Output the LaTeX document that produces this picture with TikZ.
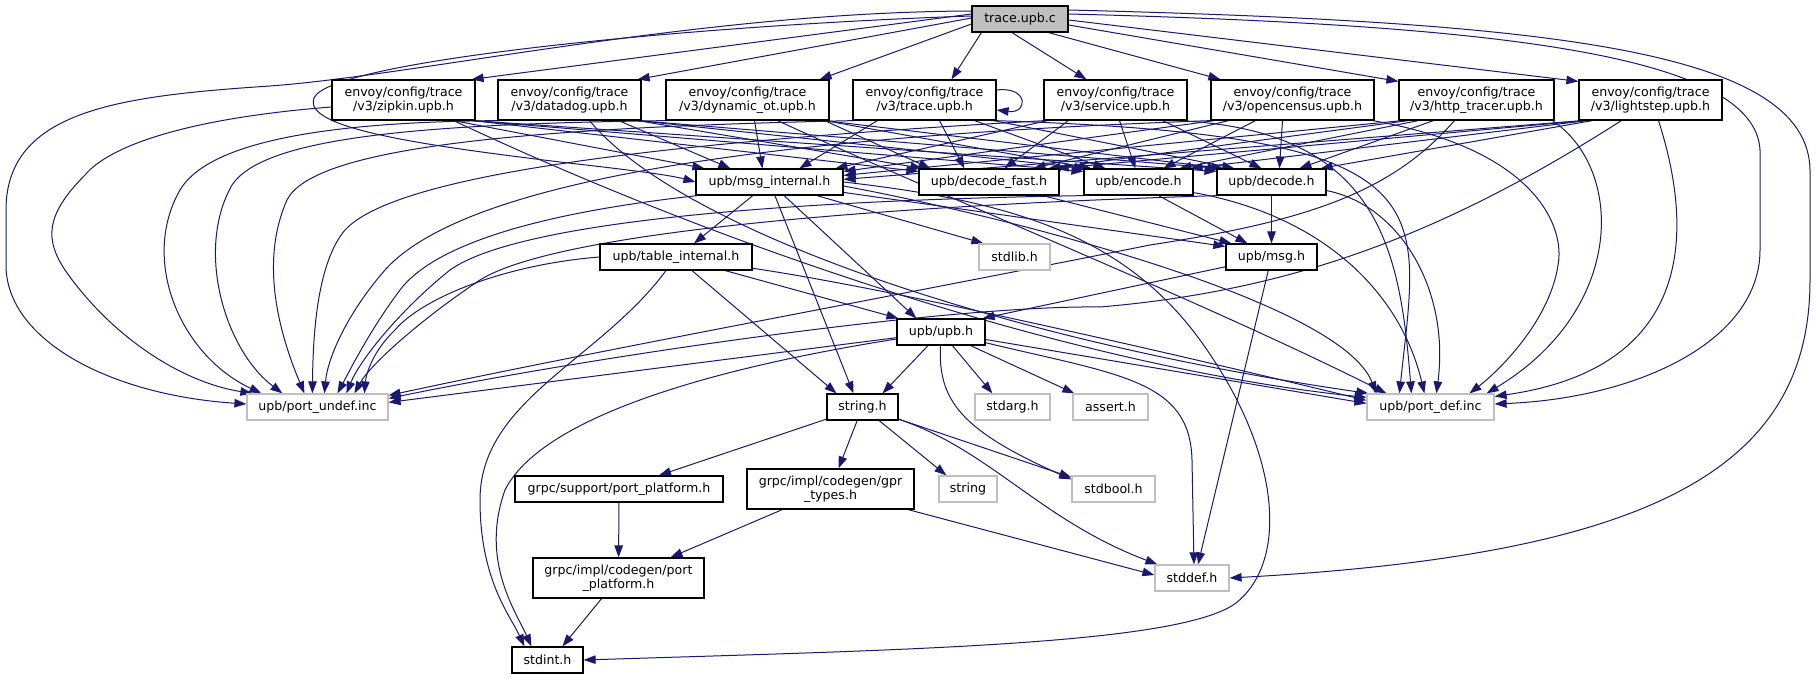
\documentclass[tikz,border=0pt]{standalone}
\usepackage{fontspec}
\setmainfont{DejaVu Sans}
\usetikzlibrary{arrows.meta,calc}
\definecolor{edgecol}{HTML}{191970}
\definecolor{sysgray}{HTML}{BFBFBF}
\definecolor{rootfill}{HTML}{BFBFBF}
\pgfdeclarelayer{bg}
\pgfsetlayers{bg,main}
\tikzset{
  dep/.style={draw=edgecol, line width=1pt, -{Triangle[length=12pt,width=8.5pt]}},
  filebox/.style={draw=black, line width=1.2pt, fill=white, inner sep=0pt, align=center,
    font=\fontsize{12.6}{14.5}\selectfont, minimum height=26},
  sysbox/.style={filebox, draw=sysgray},
  twoline/.style={minimum height=40},
}
\begin{document}
\begin{tikzpicture}[x=1pt,y=-1pt]
\useasboundingbox (0,0) rectangle (1816,679);

% ---------- nodes ----------
\node[filebox, fill=rootfill, minimum width=96] (root) at (1020,19) {trace.upb.c};
\node[filebox, twoline, minimum width=143] (zipkin) at (403.5,100) {envoy/config/trace\\/v3/zipkin.upb.h};
\node[filebox, twoline, minimum width=143] (datadog) at (569.5,100) {envoy/config/trace\\/v3/datadog.upb.h};
\node[filebox, twoline, minimum width=163] (dyn) at (747.5,100) {envoy/config/trace\\/v3/dynamic\_ot.upb.h};
\node[filebox, twoline, minimum width=143] (traceh) at (924.5,100) {envoy/config/trace\\/v3/trace.upb.h};
\node[filebox, twoline, minimum width=143] (service) at (1115.5,100) {envoy/config/trace\\/v3/service.upb.h};
\node[filebox, twoline, minimum width=163] (opencensus) at (1292.5,100) {envoy/config/trace\\/v3/opencensus.upb.h};
\node[filebox, twoline, minimum width=155] (http) at (1476.5,100) {envoy/config/trace\\/v3/http\_tracer.upb.h};
\node[filebox, twoline, minimum width=143] (lightstep) at (1650.5,100) {envoy/config/trace\\/v3/lightstep.upb.h};

\node[filebox, minimum width=147] (msgint) at (769.5,182) {upb/msg\_internal.h};
\node[filebox, minimum width=140] (dfast) at (989,182) {upb/decode\_fast.h};
\node[filebox, minimum width=109] (encode) at (1138.5,182) {upb/encode.h};
\node[filebox, minimum width=109] (decode) at (1271.5,182) {upb/decode.h};

\node[filebox, minimum width=152] (tableint) at (676,257) {upb/table\_internal.h};
\node[sysbox, minimum width=71] (stdlib) at (1014.5,257) {stdlib.h};
\node[filebox, minimum width=91] (msg) at (1271.5,257) {upb/msg.h};

\node[filebox, minimum width=88] (upb) at (941,332) {upb/upb.h};

\node[sysbox, minimum width=141] (portundef) at (317.5,407) {upb/port\_undef.inc};
\node[filebox, minimum width=71] (stringh) at (862.5,407) {string.h};
\node[sysbox, minimum width=75] (stdarg) at (1012.5,407) {stdarg.h};
\node[sysbox, minimum width=75] (assert) at (1110.5,407) {assert.h};
\node[sysbox, minimum width=127] (portdef) at (1430.5,407) {upb/port\_def.inc};

\node[filebox, minimum width=208] (gprsupport) at (619,489) {grpc/support/port\_platform.h};
\node[filebox, twoline, minimum width=167] (gprtypes) at (830.5,489) {grpc/impl/codegen/gpr\\\_types.h};
\node[sysbox, minimum width=58] (string) at (968,489) {string};
\node[sysbox, minimum width=83] (stdbool) at (1113.5,489) {stdbool.h};

\node[filebox, twoline, minimum width=171] (codegenpp) at (618.5,578) {grpc/impl/codegen/port\\\_platform.h};
\node[sysbox, minimum width=74] (stddef) at (1192,578) {stddef.h};

\node[filebox, minimum width=71] (stdint) at (547.5,660) {stdint.h};

% ---------- edges ----------
\begin{pgfonlayer}{bg}
\fill[white] (0,0) rectangle (1816,679);
% root
\draw[dep] ($(root.west)+(0,-5)$) -- ($(zipkin.north east)+(-4,0)$);
\draw[dep] ($(root.west)+(0,-1)$) -- ($(datadog.north east)+(-4,0)$);
\draw[dep] ($(root.west)+(0,5)$) -- ($(dyn.north east)+(-10,0)$);
\draw[dep] ($(root.south west)+(10,0)$) -- ($(traceh.north)+(27,0)$);
\draw[dep] ($(root.south)+(-8,0)$) -- ($(service.north west)+(43,0)$);
\draw[dep] ($(root.south east)+(-20,0)$) -- ($(opencensus.north west)+(10,0)$);
\draw[dep] ($(root.east)+(0,6)$) -- ($(http.north west)+(0,2)$);
\draw[dep] ($(root.east)+(0,1)$) -- ($(lightstep.north west)+(0,2)$);
\draw[dep] ($(root.east)+(0,-5)$) .. controls (1500,25) and (1755,55) .. (1760,150) -- (1760,250)
  .. controls (1760,340) and (1640,398) .. ($(portdef.east)+(0,-3)$);
\draw[dep] ($(root.east)+(0,-9)$) .. controls (1550,22) and (1808,50) .. (1810,170) -- (1810,280)
  .. controls (1810,470) and (1650,555) .. (stddef.east);
\draw[dep] ($(root.west)+(0,-8)$) .. controls (700,12) and (420,75) .. (270,86)
  .. controls (120,96) and (6,110) .. (6,210) -- (6,265)
  .. controls (6,340) and (110,395) .. ($(portundef.west)+(0,-3)$);
\draw[dep] ($(root.west)+(0,-3)$) .. controls (700,25) and (330,60) .. (314,98)
  .. controls (302,128) and (420,145) .. (560,162)
  .. controls (630,170) and (670,175) .. (msgint.west);

% zipkin
\draw[dep] ($(zipkin.south east)+(-22,0)$) -- ($(msgint.north west)+(9,0)$);
\draw[dep] ($(zipkin.south east)+(-3,0)$) -- ($(dfast.north west)+(0,3)$);
\draw[dep] ($(zipkin.south east)+(-3,0)$) -- ($(encode.north west)+(0,3)$);
\draw[dep] ($(zipkin.south east)+(-3,0)$) -- ($(decode.north west)+(0,3)$);
\draw[dep] ($(zipkin.south east)+(-22,0)$) .. controls (750,260) and (1100,370) .. ($(portdef.north west)+(0,4)$);
\draw[dep] ($(zipkin.west)+(0,7)$) .. controls (190,118) and (110,145) .. (85,175)
  .. controls (45,215) and (45,240) .. (65,270)
  .. controls (110,335) and (180,382) .. ($(portundef.north west)+(6,0)$);

% datadog
\draw[dep] ($(datadog.south east)+(-23,0)$) -- ($(msgint.north west)+(35,0)$);
\draw[dep] ($(datadog.south east)+(-4,0)$) -- ($(dfast.north west)+(4,0)$);
\draw[dep] ($(datadog.south east)+(-4,0)$) -- ($(encode.north west)+(3,0)$);
\draw[dep] ($(datadog.south east)+(-4,0)$) -- ($(decode.north west)+(3,0)$);
\draw[dep] ($(datadog.south)+(20,0)$) .. controls (680,230) and (1000,340) .. ($(portdef.north west)+(2,0)$);
\draw[dep] ($(datadog.south west)+(2,0)$) .. controls (300,122) and (205,148) .. (180,190)
  .. controls (140,260) and (180,355) .. ($(portundef.north west)+(15,0)$);

% dynamic_ot
\draw[dep] ($(dyn.south)+(7,0)$) -- ($(msgint.north west)+(67,0)$);
\draw[dep] ($(dyn.south east)+(-5,0)$) -- ($(dfast.north west)+(12,0)$);
\draw[dep] ($(dyn.south east)+(-5,0)$) -- ($(encode.north west)+(8,0)$);
\draw[dep] ($(dyn.south east)+(-5,0)$) -- ($(decode.north west)+(7,0)$);
\draw[dep] ($(dyn.south)+(30,0)$) .. controls (950,200) and (1200,300) .. ($(portdef.north west)+(20,0)$);
\draw[dep] ($(dyn.south west)+(2,0)$) .. controls (400,124) and (262,140) .. (232,185)
  .. controls (195,250) and (225,350) .. ($(portundef.north west)+(36,0)$);

% trace.upb.h
\draw[dep] ($(traceh.south west)+(25,0)$) -- ($(msgint.north west)+(104,0)$);
\draw[dep] ($(traceh.south)+(15,0)$) -- ($(dfast.north west)+(46,0)$);
\draw[dep] ($(traceh.south)+(50,0)$) -- ($(encode.north west)+(22,0)$);
\draw[dep] ($(traceh.south east)+(-3,0)$) -- ($(decode.north west)+(18,0)$);
\draw[dep] ($(traceh.south east)+(-3,0)$) .. controls (1450,135) and (1420,200) .. ($(portdef.north west)+(33,0)$);
\draw[dep] ($(traceh.south west)+(2,0)$) .. controls (500,128) and (312,150) .. (287,200)
  .. controls (258,265) and (282,340) .. ($(portundef.north west)+(58,0)$);
\draw[dep] ($(traceh.east)+(0,-10)$) .. controls +(32,-4) and +(32,4) .. ($(traceh.east)+(0,10)$);

% service
\draw[dep] ($(service.south west)+(4,0)$) -- ($(msgint.north west)+(140,0)$);
\draw[dep] ($(service.south west)+(25,0)$) -- ($(dfast.north west)+(86,0)$);
\draw[dep] ($(service.south)+(4,0)$) -- ($(encode.north west)+(52,0)$);
\draw[dep] ($(service.south east)+(-25,0)$) -- ($(decode.north west)+(45,0)$);
\draw[dep] ($(service.south east)+(-10,0)$) .. controls (1380,130) and (1400,250) .. ($(portdef.north west)+(45,0)$);
\draw[dep] ($(service.south west)+(2,0)$) .. controls (700,140) and (400,170) .. (345,230)
  .. controls (318,262) and (313,330) .. ($(portundef.north west)+(66,0)$);

% opencensus
\draw[dep] ($(opencensus.south west)+(4,0)$) -- ($(msgint.north east)+(0,3)$);
\draw[dep] ($(opencensus.south west)+(18,0)$) -- ($(dfast.north west)+(115,0)$);
\draw[dep] ($(opencensus.south west)+(45,0)$) -- ($(encode.north west)+(80,0)$);
\draw[dep] ($(opencensus.south)+(-10,0)$) -- ($(decode.north west)+(63,0)$);
\draw[dep] ($(opencensus.south east)+(-2,0)$) .. controls (1540,150) and (1565,230) .. (1558,265)
  .. controls (1550,320) and (1500,370) .. ($(portdef.north west)+(103,0)$);
\draw[dep] ($(opencensus.south west)+(1,0)$) .. controls (800,135) and (470,175) .. (385,270)
  .. controls (350,310) and (328,355) .. ($(portundef.north west)+(78,0)$);

% http_tracer
\draw[dep] ($(http.south west)+(4,0)$) -- ($(msgint.north east)+(0,7)$);
\draw[dep] ($(http.south west)+(10,0)$) -- ($(dfast.north west)+(130,0)$);
\draw[dep] ($(http.south west)+(20,0)$) -- ($(encode.north west)+(96,0)$);
\draw[dep] ($(http.south west)+(35,0)$) -- ($(decode.north west)+(83,0)$);
\draw[dep] ($(http.south east)+(-2,0)$) .. controls (1625,170) and (1625,310) .. ($(portdef.north east)+(-8,0)$);
\draw[dep] ($(http.south west)+(56,0)$) .. controls (1390,195) and (1300,222) .. (1150,245)
  .. controls (900,295) and (600,350) .. ($(portundef.north east)+(0,2)$);

% lightstep
\draw[dep] ($(lightstep.south west)+(4,0)$) -- ($(msgint.north east)+(0,11)$);
\draw[dep] ($(lightstep.south west)+(6,0)$) -- ($(dfast.north east)+(-3,0)$);
\draw[dep] ($(lightstep.south west)+(9,0)$) -- ($(encode.north east)+(-3,0)$);
\draw[dep] ($(lightstep.south west)+(14,0)$) -- ($(decode.north east)+(-6,0)$);
\draw[dep] ($(lightstep.south)+(8,0)$) .. controls (1700,250) and (1680,370) .. ($(portdef.north east)+(0,3)$);
\draw[dep] ($(lightstep.south west)+(43,0)$) .. controls (1450,230) and (1300,290) .. (1100,307)
  .. controls (950,305) and (600,355) .. ($(portundef.north east)+(0,5)$);

% msg_internal
\draw[dep] (msgint) -- ($(tableint.north)+(18,0)$);
\draw[dep] (msgint) -- ($(stdlib.north west)+(5,0)$);
\draw[dep] (msgint) -- ($(msg.north west)+(0,3)$);
\draw[dep] (msgint) -- ($(stringh.north)+(-9,0)$);
\draw[dep] (msgint) -- ($(upb.north west)+(20,0)$);
\draw[dep] (msgint.east) .. controls (1000,200) and (1120,230) .. (1200,340)
  .. controls (1280,450) and (1290,560) .. (1236,603)
  .. controls (1180,645) and (900,650) .. (stdint.east);
\draw[dep] ($(msgint.east)+(0,4)$) .. controls (1000,215) and (1340,300) .. ($(portdef.north west)+(10,0)$);
\draw[dep] ($(msgint.south west)+(2,0)$) .. controls (520,215) and (430,250) .. (400,290)
  .. controls (370,330) and (350,370) .. ($(portundef.north west)+(91,0)$);

% decode_fast, encode, decode
\draw[dep] (dfast) -- ($(msg.north west)+(6,0)$);
\draw[dep] ($(encode.south)+(20,0)$) -- ($(msg.north west)+(22,0)$);
\draw[dep] (decode) -- (msg);
\draw[dep] ($(encode.south east)+(0,-3)$) .. controls (1320,215) and (1400,290) .. ($(portdef.north west)+(58,0)$);
\draw[dep] ($(decode.south east)+(0,-5)$) .. controls (1400,205) and (1450,290) .. ($(portdef.north west)+(70,0)$);
\draw[dep] ($(encode.south west)+(2,0)$) .. controls (800,200) and (520,220) .. (450,270)
  .. controls (400,310) and (360,360) .. ($(portundef.north west)+(100,0)$);
\draw[dep] ($(decode.south west)+(2,0)$) .. controls (900,205) and (560,230) .. (480,280)
  .. controls (420,320) and (370,365) .. ($(portundef.north west)+(108,0)$);

% table_internal
\draw[dep] (tableint) -- ($(stringh.north)+(-26,0)$);
\draw[dep] (tableint) -- ($(upb.north west)+(2,0)$);
\draw[dep] (tableint) .. controls (900,290) and (1200,360) .. ($(portdef.north west)+(0,7)$);
\draw[dep] (tableint.west) .. controls (500,265) and (420,300) .. (395,330)
  .. controls (372,352) and (366,375) .. ($(portundef.north west)+(118,0)$);
\draw[dep] (tableint) .. controls (600,360) and (480,400) .. (480,500)
  .. controls (480,580) and (510,615) .. ($(stdint.north west)+(13,0)$);

% msg
\draw[dep] (msg) -- ($(upb.north east)+(-3,0)$);
\draw[dep] (msg) -- ($(stddef.north)+(6,0)$);

% upb
\draw[dep] (upb) -- ($(stringh.north)+(20,0)$);
\draw[dep] (upb) -- ($(stdarg.north west)+(18,0)$);
\draw[dep] (upb) -- ($(assert.north west)+(2,0)$);
\draw[dep] (upb) .. controls (938,400) and (960,430) .. ($(stdbool.north west)+(0,4)$);
\draw[dep] (upb) .. controls (1120,375) and (1190,380) .. (1192,460) -- ($(stddef.north)+(2,0)$);
\draw[dep] (upb) -- ($(portdef.north west)+(0,10)$);
\draw[dep] (upb) -- ($(portundef.north east)+(0,9)$);
\draw[dep] (upb) .. controls (700,370) and (540,420) .. (505,490)
  .. controls (480,560) and (515,610) .. ($(stdint.north west)+(20,0)$);

% string.h
\draw[dep] (stringh) -- ($(gprsupport.north)+(40,0)$);
\draw[dep] (stringh) -- ($(gprtypes.north)+(8,0)$);
\draw[dep] (stringh) -- ($(string.north west)+(8,0)$);
\draw[dep] (stringh) -- ($(stdbool.north west)+(0,2)$);
\draw[dep] (stringh) .. controls (990,450) and (1040,520) .. ($(stddef.north west)+(3,0)$);

% grpc
\draw[dep] (gprsupport) -- (codegenpp);
\draw[dep] (gprtypes) -- ($(codegenpp.north)+(52,0)$);
\draw[dep] (gprtypes) -- ($(stddef.west)+(0,-3)$);
\draw[dep] (codegenpp) -- ($(stdint.north west)+(51,0)$);
\end{pgfonlayer}
\end{tikzpicture}
\end{document}
